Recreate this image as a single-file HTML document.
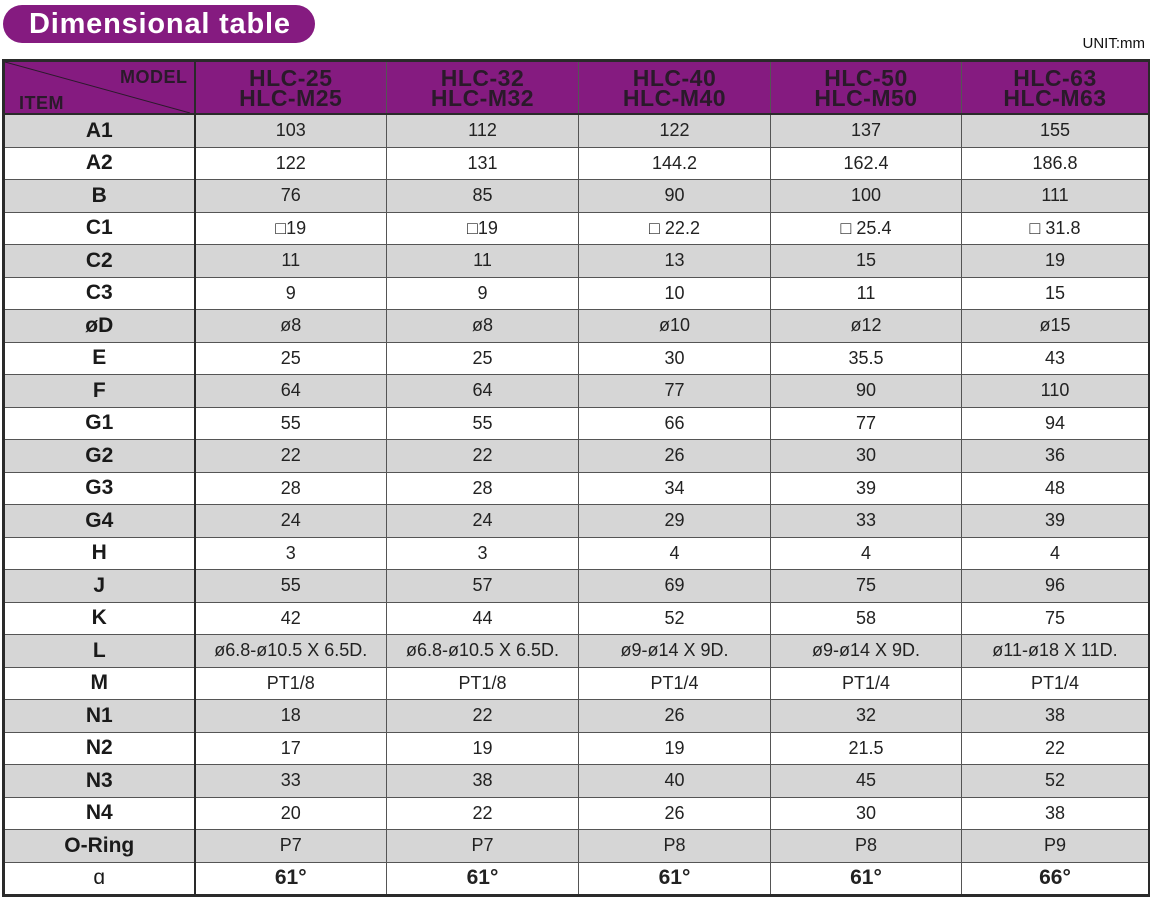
<!DOCTYPE html>
<html><head><meta charset="utf-8"><style>
body{margin:0;width:1150px;height:897px;background:#fff;position:relative;overflow:hidden;font-family:"Liberation Sans",sans-serif}
.pill{position:absolute;left:3px;top:5px;width:312px;height:38px;background:#851b80;border-radius:19px;color:#fff;font-weight:bold;font-size:29px;line-height:38px;text-indent:26px;letter-spacing:0.8px}
.unit{position:absolute;right:5px;top:35px;font-size:15px;color:#111}
table{position:absolute;left:2px;top:59px;width:1146px;border-collapse:collapse;table-layout:fixed;border:3px solid #2a2a2a}
td{border:1px solid #555;text-align:center;padding:0;height:31.5px;font-size:18px;color:#222;overflow:hidden;white-space:nowrap}
td:first-child{border-right:2px solid #2a2a2a;font-weight:bold;font-size:21px;color:#1a1a1a}
tr.h td{background:#851b80;height:51px;font-weight:bold;font-size:23px;line-height:20px;color:#2a1a2a;border-bottom:2px solid #2a2a2a;letter-spacing:0.5px}
tr:nth-child(even) td{background:#d6d6d6}
tr:nth-child(odd) td{background:#fff}
tr.h td{background:#851b80}
.big{font-weight:bold;font-size:21px}
</style></head><body>
<div class="pill">Dimensional table</div>
<div class="unit">UNIT:mm</div>
<table>
<colgroup><col style="width:191px"><col style="width:192px"><col style="width:192px"><col style="width:192px"><col style="width:191px"><col style="width:188px"></colgroup>
<tr class="h"><td style="position:relative"><svg width="191" height="51" style="position:absolute;left:0;top:0"><line x1="0" y1="0" x2="185" y2="51" stroke="#2a1a2a" stroke-width="1"/></svg><span style="position:absolute;right:6px;top:5px;font-size:18px">MODEL</span><span style="position:absolute;left:14px;top:31px;font-size:18px">ITEM</span></td><td>HLC-25<br>HLC-M25</td><td>HLC-32<br>HLC-M32</td><td>HLC-40<br>HLC-M40</td><td>HLC-50<br>HLC-M50</td><td>HLC-63<br>HLC-M63</td></tr>
<tr><td>A1</td><td>103</td><td>112</td><td>122</td><td>137</td><td>155</td></tr>
<tr><td>A2</td><td>122</td><td>131</td><td>144.2</td><td>162.4</td><td>186.8</td></tr>
<tr><td>B</td><td>76</td><td>85</td><td>90</td><td>100</td><td>111</td></tr>
<tr><td>C1</td><td>□19</td><td>□19</td><td>□ 22.2</td><td>□ 25.4</td><td>□ 31.8</td></tr>
<tr><td>C2</td><td>11</td><td>11</td><td>13</td><td>15</td><td>19</td></tr>
<tr><td>C3</td><td>9</td><td>9</td><td>10</td><td>11</td><td>15</td></tr>
<tr><td>øD</td><td>ø8</td><td>ø8</td><td>ø10</td><td>ø12</td><td>ø15</td></tr>
<tr><td>E</td><td>25</td><td>25</td><td>30</td><td>35.5</td><td>43</td></tr>
<tr><td>F</td><td>64</td><td>64</td><td>77</td><td>90</td><td>110</td></tr>
<tr><td>G1</td><td>55</td><td>55</td><td>66</td><td>77</td><td>94</td></tr>
<tr><td>G2</td><td>22</td><td>22</td><td>26</td><td>30</td><td>36</td></tr>
<tr><td>G3</td><td>28</td><td>28</td><td>34</td><td>39</td><td>48</td></tr>
<tr><td>G4</td><td>24</td><td>24</td><td>29</td><td>33</td><td>39</td></tr>
<tr><td>H</td><td>3</td><td>3</td><td>4</td><td>4</td><td>4</td></tr>
<tr><td>J</td><td>55</td><td>57</td><td>69</td><td>75</td><td>96</td></tr>
<tr><td>K</td><td>42</td><td>44</td><td>52</td><td>58</td><td>75</td></tr>
<tr><td>L</td><td>ø6.8-ø10.5 X 6.5D.</td><td>ø6.8-ø10.5 X 6.5D.</td><td>ø9-ø14 X 9D.</td><td>ø9-ø14 X 9D.</td><td>ø11-ø18 X 11D.</td></tr>
<tr><td>M</td><td>PT1/8</td><td>PT1/8</td><td>PT1/4</td><td>PT1/4</td><td>PT1/4</td></tr>
<tr><td>N1</td><td>18</td><td>22</td><td>26</td><td>32</td><td>38</td></tr>
<tr><td>N2</td><td>17</td><td>19</td><td>19</td><td>21.5</td><td>22</td></tr>
<tr><td>N3</td><td>33</td><td>38</td><td>40</td><td>45</td><td>52</td></tr>
<tr><td>N4</td><td>20</td><td>22</td><td>26</td><td>30</td><td>38</td></tr>
<tr><td>O-Ring</td><td>P7</td><td>P7</td><td>P8</td><td>P8</td><td>P9</td></tr>
<tr><td style="font-weight:normal">ɑ</td><td class="big">61°</td><td class="big">61°</td><td class="big">61°</td><td class="big">61°</td><td class="big">66°</td></tr>
</table>
</body></html>
